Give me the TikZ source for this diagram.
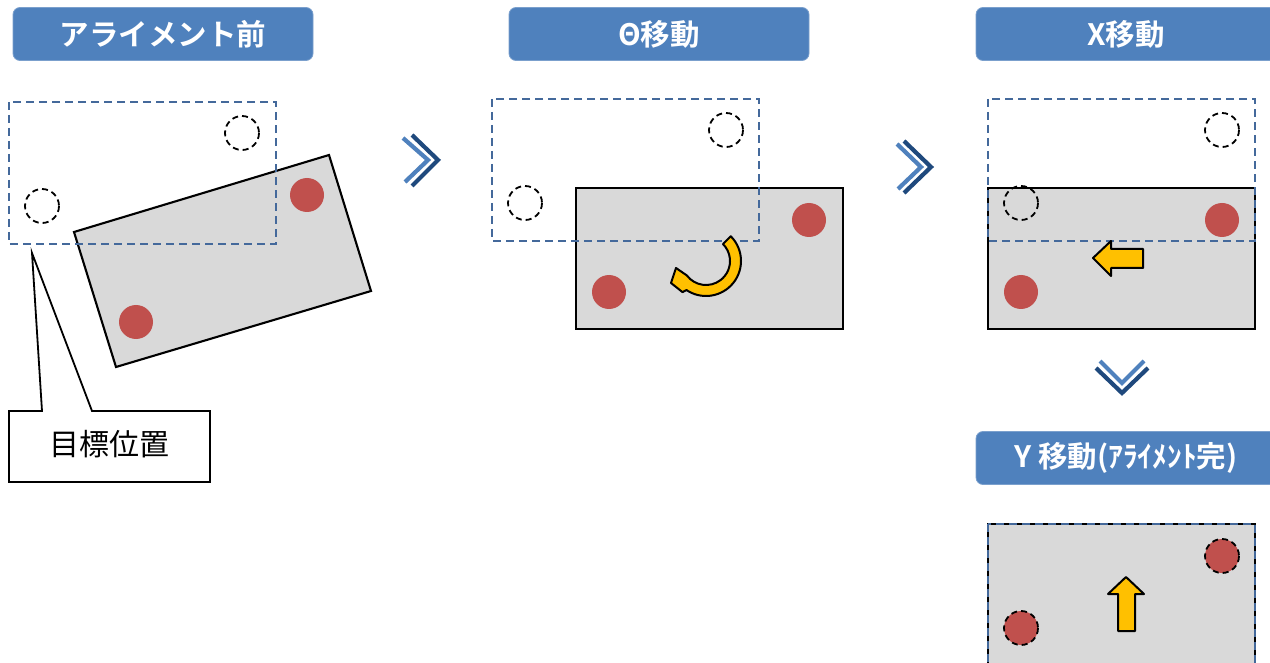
\documentclass[tikz,border=0pt]{standalone}
\usepackage{fontspec}
\newfontfamily\jp{Noto Sans CJK JP}[BoldFont={Noto Sans CJK JP Bold}]
\usetikzlibrary{calc}

\definecolor{hdrblue}{HTML}{4F81BD}
\definecolor{guide}{HTML}{44699B}
\definecolor{plate}{HTML}{D9D9D9}
\definecolor{mark}{HTML}{C0504D}
\definecolor{moveyellow}{HTML}{FFC000}
\definecolor{chevlight}{HTML}{4F81BD}
\definecolor{chevdark}{HTML}{1F497D}

\tikzset{
  header/.style={fill=hdrblue, draw=hdrblue!75!white, line width=0.8pt,
    rounded corners=7pt, minimum width=300pt, minimum height=53pt,
    inner sep=0pt, text=white, font=\jp\bfseries\fontsize{29.5}{31}\selectfont},
  target/.style={draw=guide, line width=1.9pt, dash pattern=on 8pt off 5pt},
  hole/.style={draw=black, line width=1.8pt, dash pattern=on 6pt off 4pt},
  plateface/.style={fill=plate, draw=black, line width=2.1pt},
  markdot/.style={fill=mark},
  yarrow/.style={fill=moveyellow, draw=black, line width=2pt, line join=round},
  chevron/.style={line width=4.2pt, line cap=butt, line join=miter},
  callout/.style={fill=white, draw=black, line width=1.8pt},
}

\begin{document}
\begin{tikzpicture}[x=1pt, y=-1pt]
\useasboundingbox (0,0) rectangle (1270,663);
\clip (0,0) rectangle (1270,663);

% step titles
\node[header] (h1) at (163,34) {アライメント前};
\node[header] (h2) at (659,34) {Θ移動};
\node[header] (h3) at (1126,34) {X移動};
\node[header] (h4) at (1126,458) {Y 移動(ｱﾗｲﾒﾝﾄ完)};

% ---- before alignment: tilted plate
\filldraw[plateface] (74,232) -- (329,155) -- (371,291) -- (116,367) -- cycle;
\fill[markdot] (307,195) circle[radius=17];
\fill[markdot] (136,322) circle[radius=17];
\draw[target] (9,102) rectangle (276,244);
\draw[hole] (242,133) circle[radius=17];
\draw[hole] (42,206) circle[radius=17];

% callout for the target position
\coordinate (tip) at (32,253);
\draw[callout] (9,411) -- (42,411) -- (tip) -- (92,411) -- (210,411)
  -- (210,482) -- (9,482) -- cycle;
\node[font=\jp\fontsize{30}{32}\selectfont] (lbl) at (109,444) {目標位置};

% chevron between step 1 and 2
\draw[chevron, chevlight] (403,138) -- (428,160) -- (405,182);
\draw[chevron, chevdark] (412,135) -- (438,160) -- (412,186);

% ---- theta move
\filldraw[plateface] (576,188) rectangle (843,329);
\fill[markdot] (809,220) circle[radius=17];
\fill[markdot] (609,292) circle[radius=17];
\draw[target] (492,99) rectangle (759,241);
\draw[hole] (726,130) circle[radius=17];
\draw[hole] (525,203) circle[radius=17];
% rotation arrow: thick arc band ending in a head
\coordinate (c) at (706,261);
\filldraw[yarrow] ($(c)+(-45:35)$) arc[start angle=-45, end angle=124, radius=35]
  -- ($(c)+(127:39)$) -- (671,283) -- (676,268) -- ($(c)+(143:24)$)
  arc[start angle=143, end angle=-45, radius=24] -- cycle;

% chevron between step 2 and 3
\draw[chevron, chevlight] (897,144) -- (921,167) -- (898,189);
\draw[chevron, chevdark] (904,141) -- (931,167) -- (904,193);

% ---- X move
\filldraw[plateface] (988,188) rectangle (1255,329);
\fill[markdot] (1222,220) circle[radius=17];
\fill[markdot] (1021,292) circle[radius=17];
\draw[target] (988,99) rectangle (1255,241);
\draw[hole] (1222,130) circle[radius=17];
\draw[hole] (1021,203) circle[radius=17];
\filldraw[yarrow] (1093,258) -- (1111,241) -- (1111,249) -- (1143,249)
  -- (1143,268) -- (1111,268) -- (1111,276) -- cycle;

% chevron down to step 4
\draw[chevron, chevlight] (1100,361) -- (1122,383) -- (1144,361);
\draw[chevron, chevdark] (1096,368) -- (1122,393) -- (1148,368);

% ---- Y move (aligned)
\filldraw[plateface] (988,524) rectangle (1255,668);
\draw[target] (988,524) rectangle (1255,668);
\filldraw[markdot, hole] (1222,556) circle[radius=17];
\filldraw[markdot, hole] (1021,628) circle[radius=17];
\filldraw[yarrow] (1126,577) -- (1144,594) -- (1135,594) -- (1135,631)
  -- (1118,631) -- (1118,594) -- (1108,594) -- cycle;
\end{tikzpicture}
\end{document}
